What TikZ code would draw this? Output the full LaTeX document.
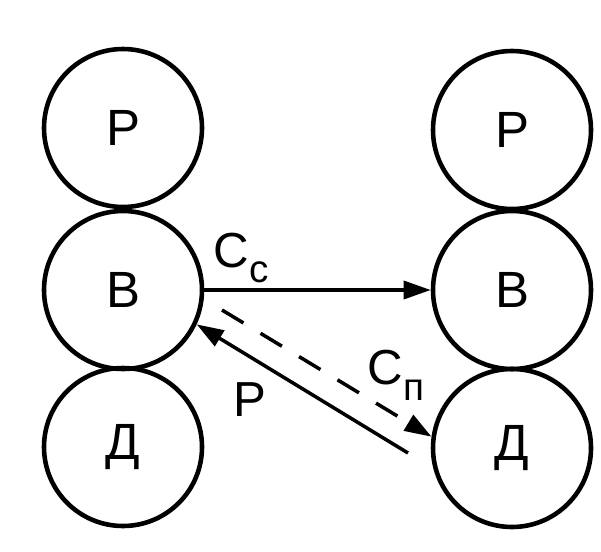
\documentclass[tikz,border=0pt]{standalone}
\usepackage{fontspec}
\setmainfont{Liberation Sans}
\usetikzlibrary{arrows.meta}

\begin{document}
\begin{tikzpicture}[
    unit/.style={
        draw,
        circle,
        minimum size=3.16cm,
        inner sep=0pt,
        line width=2.6pt,
        font=\fontsize{29}{30}\selectfont
    },
    lbl/.style={
        inner sep=0pt,
        font=\fontsize{28}{30}\selectfont
    },
    arrow/.style={
        -{Triangle[length=0.54cm, width=0.36cm]},
        line width=2pt
    }
]
\useasboundingbox (0,0) rectangle (12.02,11.02);

% Left column
\node (lp) at (2.46,8.46) [unit] {Р};
\node (lv) at (2.46,5.22) [unit] {В};
\node (ld) at (2.46,2.08) [unit] {Д};

% Right column
\node (rp) at (10.24,8.42) [unit] {Р};
\node (rv) at (10.24,5.22) [unit] {В};
\node (rd) at (10.24,2.06) [unit] {Д};

% Labels
\node (cc) at (4.82,5.86) [lbl] {С\raisebox{-0.32em}{\fontsize{22}{22}\selectfont с}};
\node (cn) at (7.92,3.52) [lbl] {С\raisebox{-0.32em}{\fontsize{22}{22}\selectfont п}};
\node (pr) at (5.00,3.02) [lbl] {Р};

% Free ends
\coordinate (dstart) at (4.44,4.82);
\coordinate (pstart) at (8.16,1.96);

% Arrows
\draw [arrow] (lv.east) -- (rv.west);
\draw [arrow, dash pattern=on 0.5cm off 0.4cm] (dstart) -- (rd.172);
\draw [arrow] (pstart) -- (lv.-25);

\end{tikzpicture}
\end{document}
